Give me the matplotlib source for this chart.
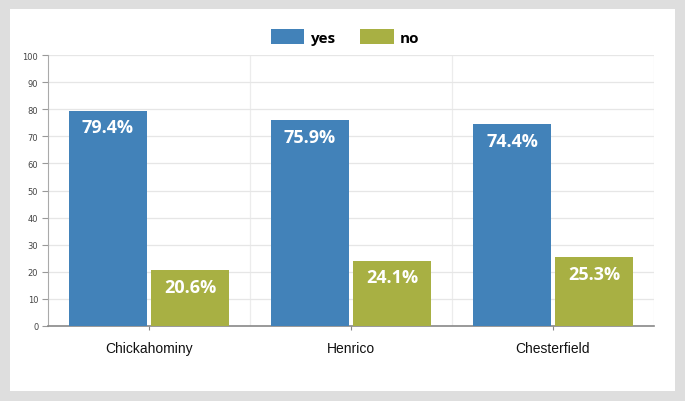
import matplotlib
matplotlib.use("Agg")
import matplotlib.pyplot as plt
import numpy as np
from matplotlib.patches import Rectangle

categories = ["Chickahominy", "Henrico", "Chesterfield"]
yes_values = [79.4, 75.9, 74.4]
no_values = [20.6, 24.1, 25.3]
series_names = ["yes", "no"]
y_ticks = [0, 10, 20, 30, 40, 50, 60, 70, 80, 90, 100]

BLUE = "#4282b9"
OLIVE = "#a8b043"

fig = plt.figure(figsize=(6.85, 4.02), dpi=100)
fig.patch.set_facecolor("#dedede")
bg = Rectangle((10/685, 10/402), 665/685, 382/402,
               transform=fig.transFigure, facecolor="white",
               edgecolor="none", zorder=-10)
fig.add_artist(bg)

ax = fig.add_axes([48/685, (402-327)/402, (654-48)/685, (327-56)/402])
ax.set_facecolor("none")
ax.set_zorder(1)

x = np.arange(len(categories))
w = 0.39
off = 0.203
b1 = ax.bar(x - off, yes_values, w, color=BLUE, zorder=3, label=series_names[0])
b2 = ax.bar(x + off, no_values, w, color=OLIVE, zorder=3, label=series_names[1])

for bars, vals in ((b1, yes_values), (b2, no_values)):
    for r, v in zip(bars, vals):
        ax.annotate(f"{v}%", (r.get_x() + r.get_width()/2, v),
                    xytext=(0, -12), textcoords="offset points",
                    ha="center", va="center", color="white",
                    fontsize=13, fontweight="bold", family="Open Sans", zorder=4)

ax.set_xlim(-0.5, 2.5)
ax.set_ylim(0, 100)
ax.set_yticks(y_ticks)
ax.set_yticklabels([str(t) for t in y_ticks], fontsize=6, color="#444444")
ax.set_xticks(x)
ax.set_xticklabels(categories, fontsize=10, family="Liberation Sans", color="#111111")

ax.set_xticks([0.5, 1.5, 2.5], minor=True)
ax.grid(axis="y", color="#e6e6e6", linewidth=0.9, zorder=0)
ax.grid(axis="x", which="minor", color="#ececec", linewidth=0.9, zorder=0)
ax.tick_params(axis="x", which="minor", length=0)
ax.tick_params(axis="x", which="major", length=3, color="#888888", pad=8)
ax.tick_params(axis="y", length=4, color="#999999", width=0.8, pad=3)

for s in ("top", "right"):
    ax.spines[s].set_visible(False)
ax.spines["left"].set_color("#aaaaaa")
ax.spines["bottom"].set_color("#888888")
ax.spines["bottom"].set_linewidth(1.2)

leg = fig.legend(handles=[b1, b2], labels=series_names, loc="center",
                 bbox_to_anchor=(345/685, (402-38)/402), ncol=2, frameon=False,
                 handlelength=2.2, handleheight=1.1, columnspacing=1.6,
                 handletextpad=0.4,
                 prop={"family": "Open Sans", "weight": "bold", "size": 11})

fig.savefig("out.png", dpi=100, facecolor=fig.get_facecolor())
